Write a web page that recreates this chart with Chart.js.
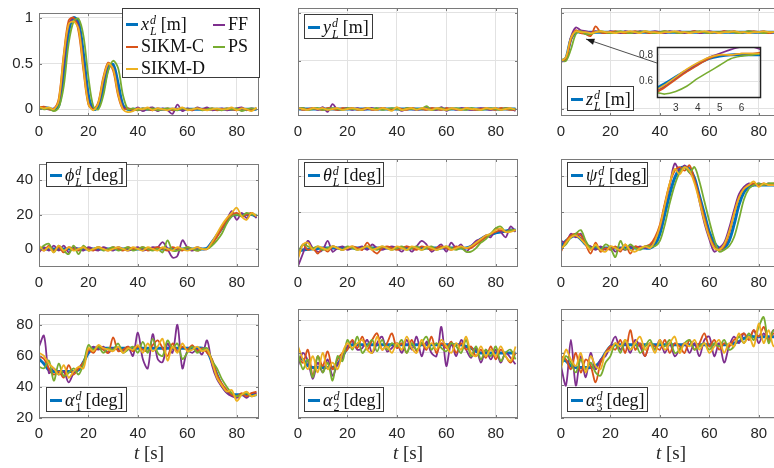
<!DOCTYPE html>
<html>
<head>
<meta charset="utf-8">
<script src="https://cdn.jsdelivr.net/npm/chart.js@4.4.1/dist/chart.umd.min.js"></script>
<style>
  html, body { margin: 0; padding: 0; background: #fff; overflow: hidden; width: 774px; height: 468px; }
  #wrap { position: relative; width: 774px; height: 468px; overflow: hidden; }
  #wrap canvas { position: absolute; }
  .lg { position: absolute; background: #fff; border: 1px solid #3a3a3a; box-sizing: border-box;
        font-family: "Liberation Serif", "DejaVu Serif", serif; font-size: 18px; color: #111; }
  .it { position: absolute; white-space: nowrap; height: 22px; line-height: 22px; }
  .sw { display: inline-block; width: 12px; vertical-align: middle; margin-right: 3px; position: relative; top: -1px; }
  .ss { display: inline-block; vertical-align: -0.42em; font-size: 12px; line-height: 11px; margin: 0 4px 0 1px; }
  .ss span { display: block; }
  .xt { position: absolute; font-family: "Liberation Serif", "DejaVu Serif", serif; font-size: 19px; color: #262626; }
</style>
</head>
<body>
<div id="wrap"></div>
<script>
// time axis (s)
const t = [0,2,4,6,8, 10,12,14,16,18, 20,22,24,26,28, 30,32,34,36,38, 40,42,44,46,48, 50,52,54,56,58, 60,62,64,66,68, 70,72,74,76,78, 80,82,84,86,88];

const seriesNames = ["FF", "SIKM-C", "PS", "SIKM-D"];
const xTickVals = [0, 20, 40, 60, 80];
const yTicksPos = [0, 0.5, 1];
const yTicksAtt = [0, 20, 40];
const yTicksAlpha = [20, 40, 60, 80];

// x_L
const xRef   = [0.02,0.02,0.01,0.0,0.04, 0.38,0.85,1.0,0.95,0.6, 0.15,0.0,0.03,0.22,0.45, 0.49,0.28,0.04,0,0, 0,0,0,0,0, 0,0,0,0,0, 0,0,0,0,0, 0,0,0,0,0, 0,0,0,0,0];
const xFF    = [0.03,0.01,0.0,0.01,0.08, 0.5,0.92,1.0,0.9,0.5, 0.08,0.0,0.06,0.3,0.49, 0.45,0.2,0.02,0.01,-0.01, 0.02,-0.02,0.01,0.02,-0.02, 0.01,-0.01,-0.05,0.05,-0.02, 0.01,-0.01,0.02,0.0,0.02, -0.01,0.0,0.01,-0.01,0.0, 0.01,0.02,-0.01,0.01,0.0];
const xSikmC = [0.02,0.03,0.0,0.0,0.12, 0.6,0.97,1.0,0.85,0.42, 0.05,0.0,0.08,0.35,0.51, 0.42,0.15,0.0,0.01,0.0, -0.01,0.01,0.0,-0.01,0.01, 0.0,0.01,-0.01,0.0,0.01, 0.0,-0.01,0.01,0.0,0.0, 0.01,-0.01,0.0,0.01,0.0, -0.01,0.01,0.0,-0.01,0.01];
const xPS    = [0.02,0.0,0.01,-0.02,0.02, 0.25,0.72,0.96,0.99,0.8, 0.35,0.03,0.0,0.15,0.42, 0.53,0.45,0.15,0.0,0.01, -0.01,0.01,0.0,0.01,-0.01, 0.0,0.01,0.0,-0.01,0.01, 0.0,0.0,0.01,-0.01,0.0, 0.01,0.0,-0.01,0.01,0.0, 0.01,-0.02,0.0,0.01,0.0];
const xSikmD = [0.03,0.01,0.02,0.0,0.1, 0.58,0.93,0.96,0.88,0.45, 0.06,-0.01,0.07,0.33,0.5, 0.44,0.17,0.0,-0.03,-0.02, 0.01,0.0,0.02,-0.01,0.01, 0.0,-0.01,0.01,0.0,0.02, -0.01,0.0,0.01,0.0,-0.01, 0.0,0.01,0.0,0.0,0.02, -0.01,0.01,0.0,-0.02,0.02];

// y_L
const yRef   = [0,0,0,0,0, 0,0,0,0,0, 0,0,0,0,0, 0,0,0,0,0, 0,0,0,0,0, 0,0,0,0,0, 0,0,0,0,0, 0,0,0,0,0, 0,0,0,0,0];
const yFF    = [0.0,0.01,-0.01,0.01,-0.01, 0.02,-0.03,0.05,-0.01,0.0, 0.01,-0.01,0.01,-0.01,0.0, 0.01,-0.01,0.01,0.0,-0.01, 0.01,-0.02,0.01,0.0,-0.01, 0.0,0.01,0.0,-0.01,0.02, -0.02,0.01,-0.01,0.01,0.0, -0.01,0.0,0.01,0.0,-0.01, 0.01,-0.01,0.01,0.0,-0.02];
const ySikmC = [0.01,-0.01,0.0,0.01,0.0, -0.01,0.01,0.0,-0.01,0.01, 0.0,0.01,-0.01,0.0,0.01, -0.01,0.0,0.01,0.0,-0.01, 0.01,0.0,-0.01,0.01,0.0, 0.0,-0.01,0.01,0.0,-0.01, 0.01,0.0,0.0,-0.01,0.01, 0.0,-0.01,0.0,0.01,0.0, -0.01,0.01,0.0,-0.01,0.0];
const yPS    = [0.0,0.01,-0.01,0.0,0.01, -0.01,0.0,0.01,0.0,-0.01, 0.01,0.0,0.0,-0.01,0.01, 0.0,0.01,-0.01,0.0,0.01, 0.0,-0.01,0.01,0.0,0.0, 0.0,0.03,-0.01,0.0,0.01, -0.01,0.0,0.01,0.0,-0.01, 0.01,0.0,-0.01,0.0,0.01, 0.0,-0.01,0.01,0.0,0.0];
const ySikmD = [0.01,0.0,-0.01,0.01,0.0, 0.01,-0.01,0.0,0.01,-0.01, 0.0,0.01,0.0,-0.01,0.01, 0.0,-0.01,0.01,0.0,-0.02, 0.02,-0.01,0.0,0.01,-0.01, 0.01,0.0,-0.01,0.01,0.0, -0.01,0.01,0.0,-0.01,0.01, 0.0,0.0,-0.01,0.01,0.0, 0.01,-0.01,0.0,0.01,-0.01];

// z_L
const zRef   = [0.5,0.53,0.73,0.8,0.8, 0.8,0.8,0.8,0.8,0.8, 0.8,0.8,0.8,0.8,0.8, 0.8,0.8,0.8,0.8,0.8, 0.8,0.8,0.8,0.8,0.8, 0.8,0.8,0.8,0.8,0.8, 0.8,0.8,0.8,0.8,0.8, 0.8,0.8,0.8,0.8,0.8, 0.8,0.8,0.8,0.8,0.79];
const zFF    = [0.49,0.52,0.75,0.85,0.82, 0.81,0.8,0.81,0.8,0.79, 0.81,0.8,0.79,0.81,0.8, 0.79,0.81,0.8,0.8,0.81, 0.8,0.79,0.81,0.8,0.81, 0.79,0.8,0.81,0.79,0.8, 0.81,0.8,0.79,0.81,0.8, 0.81,0.79,0.8,0.81,0.8, 0.8,0.81,0.79,0.8,0.79];
const zSikmC = [0.5,0.52,0.72,0.82,0.79, 0.78,0.76,0.86,0.8,0.79, 0.8,0.81,0.8,0.79,0.8, 0.81,0.8,0.8,0.79,0.8, 0.8,0.81,0.8,0.8,0.79, 0.8,0.8,0.81,0.8,0.8, 0.79,0.8,0.8,0.81,0.8, 0.8,0.79,0.8,0.8,0.81, 0.8,0.8,0.79,0.8,0.8];
const zPS    = [0.5,0.5,0.62,0.78,0.81, 0.78,0.78,0.8,0.81,0.8, 0.79,0.8,0.81,0.8,0.79, 0.8,0.8,0.81,0.8,0.79, 0.8,0.81,0.8,0.8,0.79, 0.8,0.8,0.8,0.81,0.8, 0.79,0.8,0.8,0.8,0.81, 0.8,0.79,0.8,0.81,0.8, 0.8,0.79,0.8,0.8,0.8];
const zSikmD = [0.5,0.54,0.74,0.81,0.8, 0.8,0.79,0.8,0.81,0.8, 0.8,0.79,0.8,0.8,0.81, 0.8,0.79,0.81,0.8,0.8, 0.79,0.8,0.8,0.81,0.8, 0.8,0.79,0.8,0.8,0.81, 0.8,0.8,0.79,0.8,0.8, 0.81,0.8,0.8,0.79,0.8, 0.8,0.81,0.8,0.8,0.79];

// z_L inset (t = 2.2 .. 6.9 s)
const insetT      = [2.2, 2.5, 3, 3.5, 4, 4.5, 5, 5.5, 6, 6.5, 6.9];
const insetRef    = [0.55, 0.58, 0.63, 0.68, 0.73, 0.77, 0.79, 0.8, 0.8, 0.8, 0.8];
const insetFF     = [0.53, 0.56, 0.62, 0.68, 0.73, 0.78, 0.81, 0.84, 0.86, 0.86, 0.84];
const insetSikmC  = [0.52, 0.55, 0.61, 0.67, 0.72, 0.77, 0.8, 0.8, 0.81, 0.81, 0.82];
const insetPS     = [0.51, 0.5, 0.52, 0.56, 0.62, 0.67, 0.72, 0.77, 0.79, 0.8, 0.81];
const insetSikmD  = [0.54, 0.57, 0.63, 0.69, 0.74, 0.78, 0.8, 0.8, 0.81, 0.81, 0.81];
const insetXTicks = [3, 4, 5, 6];
const insetYTicks = [0.6, 0.8];

// phi_L
const phiRef   = [0,0,0,0,0, 0,0,0,0,0, 0,0,0,0,0, 0,0,0,0,0, 0,0,0,0,0, 0,0,0,0,0, 0,0,0,0,0.5, 4,8,12,16,19.5, 20,20,20,20,19];
const phiFF    = [-2,1,-1,2,-1, 2,-2,1,0,-1, 1,0,-1,1,0, -1,1,0,-1,0, 1,-1,0,1,1, 4,0,-5,-4,5, 1,-1,1,0,0, 4,8,12,17,22, 17,21,18,21,18];
const phiSikmC = [1,-1,2,-1,1, -2,1,0,-1,1, 0,-1,1,0,-1, 1,0,-1,1,0, 0,1,-1,0,1, 0,-1,1,0,-1, 1,0,-1,0,0, 3,7,12,17,20, 21,19,20,21,19];
const phiPS    = [-1,2,3,-2,2, -1,-3,2,-3,2, -1,0,1,-1,0, 1,-1,0,1,-1, 0,1,0,-1,0, -2,5,-1,-1,0, 1,0,-1,0,0, 2,5,9,15,19, 20,19,21,20,20];
const phiSikmD = [2,-1,1,-2,2, -1,1,-1,0,1, -1,0,1,0,-1, 0,1,0,-1,1, 0,-1,1,0,-1, 1,0,-1,1,0, -1,0,1,0,0, 4,9,14,18,21, 24,19,17,21,19];

// theta_L
const thetaRef   = [-1.5,-1,-0.7,-0.4,-0.2, 0,0,0,0,0, 0,0,0,0,0, 0,0,0,0,0, 0,0,0,0,0, 0,0,0,0,0, 0,0,0,0,0, 1,3,5,6.5,7.5, 8.5,9,9.5,10,10];
const thetaFF    = [-10,-3,4,0,-2, -1,4,-2,0,1, -1,0,0,1,-1, 2,0,-1,0,1, 0,-2,1,-2,1, 4,2,-2,0,2, -2,3,0,2,-2, 1,4,5,7,6, 11,9,6,12,9];
const thetaSikmC = [-5,2,-1,0,-3, 0,-2,1,0,-1, 0,1,0,-1,3, -1,-3,0,1,0, -1,0,1,0,-1, 1,0,-1,0,1, 0,-1,1,0,0, 0,2,4,6,8, 9,10,9,10,10];
const thetaPS    = [-2,2,1,0,1, -1,0,1,0,-1, 1,0,-1,0,1, 0,-1,1,0,-1, 0,1,-1,0,1, -1,0,1,-1,0, 1,0,-1,0,-2, -2,0,3,5,8, 11,12,9,10,10];
const thetaSikmD = [-6,2,3,-1,1, 0,-1,1,0,-1, 0,1,-1,0,1, -1,0,1,0,-1, 1,0,-1,1,0, -1,1,0,-1,0, 1,-1,0,1,0, 1,3,5,7,8, 10,11,9,9,10];

// psi_L
const psiRef   = [1,4,6,7,5, 2,0,0,0,0, 0,0,0,0,0, 0,0,0,0,2, 8,19,30,39,44, 45,44,39,29,19, 9,3,0,0,4, 13,24,31,34,35, 35,35,35,35,34];
const psiFF    = [4,3,8,6,8, 2,1,-1,1,-1, 1,-2,0,-1,1, 0,1,0,1,5, 11,24,35,47,43, 46,42,38,26,14, 5,-2,0,3,11, 21,30,34,36,35, 36,35,36,35,35];
const psiSikmC = [-2,4,7,8,7, 2,-3,3,-2,0, -1,1,-2,2,-3, 1,0,1,2,6, 13,25,36,43,45, 43,46,38,28,17, 7,1,-1,1,8, 19,28,33,35,36, 35,36,35,36,35];
const psiPS    = [0,2,6,8,10, 4,0,1,-1,2, 0,-5,4,-1,2, 0,-1,1,1,1, 4,13,25,35,42, 45,42,45,37,26, 15,5,-2,-1,1, 6,16,27,33,35, 36,35,36,36,35];
const psiSikmD = [-1,3,6,7,5, 2,-1,2,-1,-2, 1,0,-1,2,-1, -2,0,1,0,4, 12,24,36,44,41, 45,43,36,26,15, 6,0,-1,2,9, 19,28,33,35,37, 34,36,35,35,35];

// alpha_1
const a1Ref   = [58,55,51,50,50, 50,50,50,51,56, 62,65,65,65,65, 65,65,65,65,65, 65,65,65,65,65, 65,65,65,65,65, 65,65,65,65,63, 56,48,41,37,35, 35,35,35,35,35];
const a1FF    = [66,73,49,52,48, 50,43,49,52,56, 63,66,64,66,62, 65,64,63,66,60, 75,58,52,74,58, 56,68,62,80,52, 63,62,64,61,70, 54,45,40,36,34, 33,35,33,36,36];
const a1SikmC = [60,58,52,48,50, 46,54,48,52,56, 64,62,66,64,62, 72,63,64,66,63, 66,64,63,67,70, 65,60,68,63,66, 64,67,63,65,62, 58,48,42,38,35, 34,36,34,36,37];
const a1PS    = [53,52,57,44,55, 47,49,52,48,55, 67,64,66,62,65, 64,68,62,64,66, 62,69,62,71,62, 60,70,65,68,58, 62,66,62,64,65, 57,52,45,40,36, 34,35,36,34,35];
const a1SikmD = [62,60,55,52,48, 54,46,50,53,52, 65,63,67,65,64, 63,66,62,65,64, 67,62,68,63,66, 71,57,66,62,68, 63,64,66,63,64, 56,46,41,37,38, 31,35,37,34,35];

// alpha_2
const a2Ref   = [57,56,52,51,51, 51,51,51,53,58, 63,65,65,65,65, 65,65,65,65,65, 65,65,65,65,65, 65,65,65,65,65, 65,65,65,65,64, 63,61,60,60,60, 60,60,60,60,60];
const a2FF    = [52,60,55,44,54, 48,56,46,53,57, 64,67,62,63,68, 60,66,70,61,63, 66,60,68,62,70, 58,67,60,58,76, 52,66,58,68,62, 57,63,54,62,56, 62,54,60,57,53];
const a2SikmC = [58,54,62,46,58, 52,61,50,56,60, 62,68,63,70,62, 68,72,62,66,72, 63,66,60,68,61, 66,62,70,60,66, 63,67,60,66,62, 64,58,62,57,64, 56,62,58,54,60];
const a2PS    = [60,50,56,45,58, 48,54,43,58,55, 68,62,70,60,64, 68,61,68,62,66, 64,68,60,66,62, 66,70,62,66,63, 61,66,64,60,68, 58,64,56,62,58, 64,55,60,62,56];
const a2SikmD = [64,56,50,58,48, 60,50,54,50,60, 66,63,66,68,62, 60,70,62,64,60, 66,62,70,63,60, 68,63,66,62,68, 64,60,66,62,70, 60,58,64,58,62, 58,64,58,55,64];

// alpha_3
const a3Ref   = [56,55,52,51,51, 51,51,52,55,60, 64,65,65,65,65, 65,65,65,65,65, 65,65,65,65,65, 65,65,65,65,65, 65,65,65,65,65, 66,67,69,70,70, 70,70,70,70,70];
const a3FF    = [52,40,68,40,58, 45,60,50,56,58, 64,70,62,66,60, 68,64,58,66,62, 68,60,66,58,62, 66,60,66,58,68, 70,58,66,54,64, 70,66,72,68,74, 66,72,68,74,70];
const a3SikmC = [58,56,50,60,48, 56,52,42,54,60, 64,62,68,60,74, 62,66,58,66,64, 62,68,60,66,64, 60,68,62,66,72, 64,68,62,66,64, 68,70,72,68,74, 70,76,68,72,70];
const a3PS    = [52,58,54,48,56, 50,54,48,46,54, 58,66,60,68,62, 66,60,64,68,62, 66,64,68,60,62, 66,68,62,64,66, 62,66,64,68,62, 64,70,66,72,68, 76,82,66,74,68];
const a3SikmD = [50,62,56,52,60, 48,58,52,50,60, 62,66,64,68,62, 66,70,62,66,60, 68,62,66,70,60, 66,64,68,62,66, 60,64,68,60,66, 64,72,66,70,64, 78,66,74,64,72];

// ---- look ----
const colors = { ref: "#0072BD", ff: "#7E2F8E", sikmC: "#D95319", ps: "#77AC30", sikmD: "#EDB120" };
const GRID = "#e2e2e2";
const AX_W = 40, AX_H = 26, TOP_PAD = 10;

Chart.defaults.font.family = "'Liberation Sans', Arial, sans-serif";
Chart.defaults.font.size = 15;
Chart.defaults.color = "#262626";

const wrap = document.getElementById("wrap");

// matlab-like box with short inward ticks
const boxPlugin = {
  id: "box",
  afterDraw(chart) {
    const a = chart.chartArea;
    const ctx = chart.ctx;
    const tl = 3;
    ctx.save();
    ctx.strokeStyle = "#7a7a7a";
    ctx.lineWidth = 1;
    ctx.beginPath();
    chart.scales.x.ticks.forEach((tk) => {
      const px = Math.round(chart.scales.x.getPixelForValue(tk.value)) + 0.5;
      ctx.moveTo(px, a.bottom);
      ctx.lineTo(px, a.bottom - tl);
      ctx.moveTo(px, a.top);
      ctx.lineTo(px, a.top + tl);
    });
    chart.scales.y.ticks.forEach((tk) => {
      const py = Math.round(chart.scales.y.getPixelForValue(tk.value)) + 0.5;
      ctx.moveTo(a.left, py);
      ctx.lineTo(a.left + tl, py);
      ctx.moveTo(a.right, py);
      ctx.lineTo(a.right - tl, py);
    });
    ctx.stroke();
    ctx.strokeRect(a.left + 0.5, a.top + 0.5, a.right - a.left - 1, a.bottom - a.top - 1);
    ctx.restore();
  },
};

function toPts(xs, ys) {
  return ys.map((v, i) => ({ x: xs[i], y: v }));
}

function buildDatasets(xs, ref, ff, sc, ps, sd, thin) {
  const w = thin || 1.8;
  return [
    { data: toPts(xs, ref), borderColor: colors.ref, borderWidth: w + 1.2, order: 5 },
    { data: toPts(xs, ff), borderColor: colors.ff, borderWidth: w, order: 4 },
    { data: toPts(xs, sc), borderColor: colors.sikmC, borderWidth: w, order: 3 },
    { data: toPts(xs, ps), borderColor: colors.ps, borderWidth: w, order: 2 },
    { data: toPts(xs, sd), borderColor: colors.sikmD, borderWidth: w, order: 1 },
  ];
}

function makePanel(cfg) {
  const canvas = document.createElement("canvas");
  canvas.width = cfg.w + AX_W + 2;
  canvas.height = cfg.h + TOP_PAD + AX_H;
  canvas.style.left = cfg.left - AX_W + "px";
  canvas.style.top = cfg.top - TOP_PAD + "px";
  wrap.appendChild(canvas);

  return new Chart(canvas.getContext("2d"), {
    type: "line",
    data: { datasets: cfg.datasets },
    options: {
      responsive: false,
      animation: false,
      devicePixelRatio: 1,
      layout: { padding: { top: TOP_PAD, right: 2, left: 0, bottom: 0 } },
      elements: { point: { radius: 0 }, line: { tension: 0.32 } },
      plugins: { legend: { display: false }, tooltip: { enabled: false } },
      scales: {
        x: {
          type: "linear",
          min: 0,
          max: 89,
          afterBuildTicks: (s) => { s.ticks = xTickVals.map((v) => ({ value: v })); },
          afterFit: (s) => { s.height = AX_H; },
          ticks: { padding: 7, maxRotation: 0, callback: (v) => String(v) },
          grid: { color: GRID, drawTicks: false },
          border: { display: false },
        },
        y: {
          min: cfg.yMin,
          max: cfg.yMax,
          afterBuildTicks: (s) => { s.ticks = cfg.yTicks.map((v) => ({ value: v })); },
          afterFit: (s) => { s.width = AX_W; },
          ticks: { display: cfg.showY, padding: 6, callback: (v) => String(v) },
          grid: { color: GRID, drawTicks: false },
          border: { display: false },
        },
      },
    },
    plugins: [boxPlugin].concat(cfg.extra || []),
  });
}

const colLeft = [39, 298, 561];
const rowTop = [8, 159, 309];
const PW = 220, PH = 108;

const rows = [
  { yMin: -0.073, yMax: 1.052, yTicks: yTicksPos },
  { yMin: -10.5, yMax: 49.5, yTicks: yTicksAtt },
  { yMin: 20, yMax: 87, yTicks: yTicksAlpha },
];

const panels = [
  [[xRef, xFF, xSikmC, xPS, xSikmD], [yRef, yFF, ySikmC, yPS, ySikmD], [zRef, zFF, zSikmC, zPS, zSikmD]],
  [[phiRef, phiFF, phiSikmC, phiPS, phiSikmD], [thetaRef, thetaFF, thetaSikmC, thetaPS, thetaSikmD], [psiRef, psiFF, psiSikmC, psiPS, psiSikmD]],
  [[a1Ref, a1FF, a1SikmC, a1PS, a1SikmD], [a2Ref, a2FF, a2SikmC, a2PS, a2SikmD], [a3Ref, a3FF, a3SikmC, a3PS, a3SikmD]],
];

// arrow from inset to the z_L rise (data coordinates of the z panel)
const zArrow = { from: [38.8, 0.479], to: [10.1, 0.729] };
const arrowPlugin = {
  id: "arrow",
  afterDraw(chart) {
    const ctx = chart.ctx;
    const sx = chart.scales.x, sy = chart.scales.y;
    const x0 = sx.getPixelForValue(zArrow.from[0]), y0 = sy.getPixelForValue(zArrow.from[1]);
    const x1 = sx.getPixelForValue(zArrow.to[0]), y1 = sy.getPixelForValue(zArrow.to[1]);
    const ang = Math.atan2(y1 - y0, x1 - x0);
    ctx.save();
    ctx.strokeStyle = "#3a3a3a";
    ctx.fillStyle = "#1a1a1a";
    ctx.lineWidth = 0.9;
    ctx.beginPath();
    ctx.moveTo(x0, y0);
    ctx.lineTo(x1, y1);
    ctx.stroke();
    ctx.beginPath();
    ctx.moveTo(x1, y1);
    ctx.lineTo(x1 - 9 * Math.cos(ang - 0.35), y1 - 9 * Math.sin(ang - 0.35));
    ctx.lineTo(x1 - 9 * Math.cos(ang + 0.35), y1 - 9 * Math.sin(ang + 0.35));
    ctx.closePath();
    ctx.fill();
    ctx.restore();
  },
};

panels.forEach((row, r) => {
  row.forEach((s, c) => {
    makePanel({
      left: colLeft[c],
      top: rowTop[r],
      w: PW,
      h: r === 2 ? PH + 1 : PH,
      yMin: rows[r].yMin,
      yMax: rows[r].yMax,
      yTicks: rows[r].yTicks,
      showY: c === 0,
      datasets: buildDatasets(t, s[0], s[1], s[2], s[3], s[4]),
      extra: r === 0 && c === 2 ? [arrowPlugin] : [],
    });
  });
});

// inset
(function makeInset() {
  const L = 657, T = 43, W = 104, H = 55, AW = 26, AH = 18, TP = 6;
  const canvas = document.createElement("canvas");
  canvas.width = W + AW + 2;
  canvas.height = H + TP + AH;
  canvas.style.left = L - AW + "px";
  canvas.style.top = T - TP + "px";
  wrap.appendChild(canvas);
  new Chart(canvas.getContext("2d"), {
    type: "line",
    data: { datasets: buildDatasets(insetT, insetRef, insetFF, insetSikmC, insetPS, insetSikmD, 1.6) },
    options: {
      responsive: false,
      animation: false,
      devicePixelRatio: 1,
      layout: { padding: { top: TP, right: 2, left: 0, bottom: 0 } },
      elements: { point: { radius: 0 }, line: { tension: 0.3 } },
      plugins: { legend: { display: false }, tooltip: { enabled: false } },
      scales: {
        x: {
          type: "linear", min: 2.15, max: 6.88,
          afterBuildTicks: (s) => { s.ticks = insetXTicks.map((v) => ({ value: v })); },
          afterFit: (s) => { s.height = AH; },
          ticks: { padding: 4, font: { size: 10 }, color: "#333", callback: (v) => String(v) },
          grid: { display: false, drawTicks: false },
          border: { display: false },
        },
        y: {
          min: 0.47, max: 0.86,
          afterBuildTicks: (s) => { s.ticks = insetYTicks.map((v) => ({ value: v })); },
          afterFit: (s) => { s.width = AW; },
          ticks: { padding: 4, font: { size: 10 }, color: "#333", callback: (v) => v.toFixed(1) },
          grid: { color: GRID, drawTicks: false },
          border: { display: false },
        },
      },
    },
    plugins: [{
      id: "insetBox",
      afterDraw(chart) {
        const a = chart.chartArea, ctx = chart.ctx;
        ctx.save();
        ctx.strokeStyle = "#222";
        ctx.lineWidth = 1.5;
        ctx.strokeRect(a.left + 0.5, a.top + 0.5, a.right - a.left - 1, a.bottom - a.top - 1);
        ctx.restore();
      },
    }],
  });
})();

// legends
function mathLabel(sym, sub, unit, subItalic) {
  const subHtml = subItalic ? `<i>${sub}</i>` : sub;
  return `<i>${sym}</i><span class="ss"><span><i>d</i></span><span>${subHtml}</span></span>[${unit}]`;
}

function legendItem(color, html, x, y, thick) {
  return `<div class="it" style="left:${x}px;top:${y}px"><span class="sw" style="height:${thick}px;background:${color}"></span>${html}</div>`;
}

function addLegend(box, items) {
  const d = document.createElement("div");
  d.className = "lg";
  d.style.left = box[0] + "px";
  d.style.top = box[1] + "px";
  d.style.width = box[2] + "px";
  d.style.height = box[3] + "px";
  d.innerHTML = items.join("");
  wrap.appendChild(d);
}

addLegend([122, 8, 138, 70], [
  legendItem(colors.ref, mathLabel("x", "L", "m", true), 3, 4, 3),
  legendItem(colors.ff, seriesNames[0], 90, 4, 2),
  legendItem(colors.sikmC, seriesNames[1], 3, 26, 2),
  legendItem(colors.ps, seriesNames[2], 90, 26, 2),
  legendItem(colors.sikmD, seriesNames[3], 3, 48, 2),
]);

const singleLegends = [
  { box: [304, 14, 69, 25], sym: "y", sub: "L", unit: "m", it: true },
  { box: [567, 86, 67, 25], sym: "z", sub: "L", unit: "m", it: true },
  { box: [46, 162, 81, 25], sym: "\u03D5", sub: "L", unit: "deg", it: true },
  { box: [304, 162, 80, 25], sym: "\u03B8", sub: "L", unit: "deg", it: true },
  { box: [567, 162, 81, 25], sym: "\u03C8", sub: "L", unit: "deg", it: true },
  { box: [46, 387, 81, 25], sym: "\u03B1", sub: "1", unit: "deg", it: false },
  { box: [304, 387, 80, 25], sym: "\u03B1", sub: "2", unit: "deg", it: false },
  { box: [567, 387, 81, 25], sym: "\u03B1", sub: "3", unit: "deg", it: false },
];
singleLegends.forEach((l) => {
  addLegend(l.box, [legendItem(colors.ref, mathLabel(l.sym, l.sub, l.unit, l.it), 3, 1, 3)]);
});

// x axis titles
[149, 408, 671].forEach((cx) => {
  const d = document.createElement("div");
  d.className = "xt";
  d.innerHTML = "<i>t</i> [s]";
  d.style.top = "442px";
  wrap.appendChild(d);
  d.style.left = cx - d.offsetWidth / 2 + "px";
});
</script>
</body>
</html>
